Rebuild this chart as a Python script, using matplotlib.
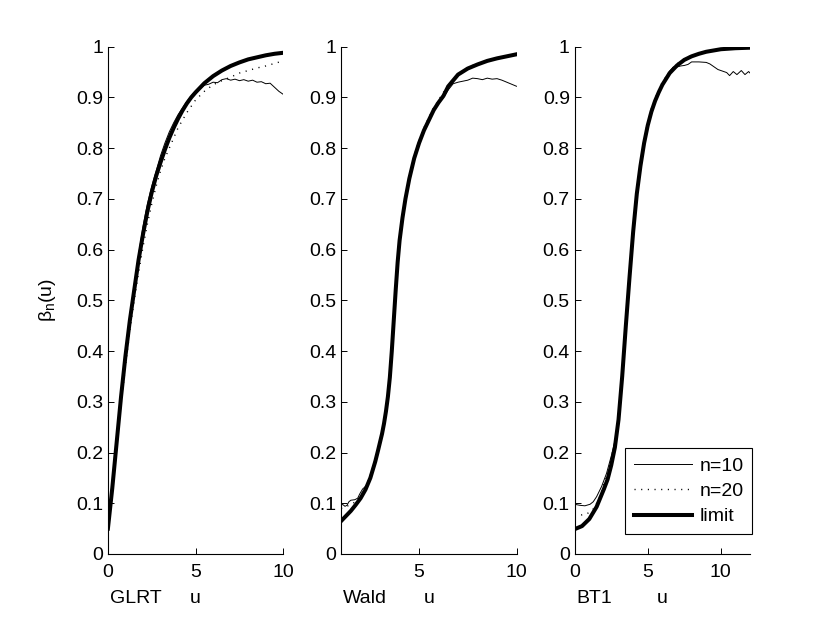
import matplotlib
matplotlib.use("Agg")
import matplotlib.pyplot as plt

plt.rcParams['font.family'] = ['Liberation Sans', 'DejaVu Sans']
plt.rcParams['mathtext.fontset'] = 'custom'
plt.rcParams['mathtext.rm'] = 'Liberation Sans'
plt.rcParams['mathtext.it'] = 'Liberation Sans'
plt.rcParams['font.size'] = 14

# --- GLRT panel ---
glrt_u_lim = [0, 0.25, 0.5, 0.75, 1.0, 1.25, 1.5, 1.75, 2.0, 2.25, 2.5, 2.75, 3.0, 3.25, 3.5,
              3.75, 4.0, 4.25, 4.5, 4.75, 5.0, 5.5, 6.0, 6.5, 7.0, 7.5, 8.0, 8.5, 9.0, 9.5, 10]
glrt_lim = [0.05, 0.13, 0.22, 0.31, 0.39, 0.46, 0.52, 0.58, 0.63, 0.675, 0.713, 0.745, 0.772, 0.797, 0.82,
            0.84, 0.858, 0.874, 0.888, 0.9, 0.91, 0.928, 0.942, 0.953, 0.962, 0.969, 0.975, 0.979, 0.983, 0.986, 0.988]
glrt_u_n10 = [0, 0.25, 0.5, 0.75, 1.0, 1.25, 1.5, 1.75, 2.0, 2.25, 2.5, 2.75, 3.0, 3.25, 3.5, 3.75, 4.0,
              4.25, 4.5, 4.75, 5.0, 5.25, 5.5, 5.75, 6.0, 6.25, 6.5, 6.75, 7.0, 7.25, 7.5, 7.75, 8.0,
              8.25, 8.5, 8.75, 9.0, 9.25, 9.5, 9.75, 10]
glrt_n10 = [0.05, 0.135, 0.225, 0.315, 0.395, 0.47, 0.53, 0.59, 0.645, 0.69, 0.725, 0.755, 0.785, 0.81,
            0.832, 0.85, 0.866, 0.879, 0.892, 0.903, 0.912, 0.917, 0.924, 0.926, 0.93, 0.929, 0.935, 0.937,
            0.934, 0.936, 0.933, 0.935, 0.932, 0.934, 0.93, 0.931, 0.927, 0.928, 0.92, 0.912, 0.906]
glrt_u_n20 = [0, 0.25, 0.5, 0.75, 1.0, 1.25, 1.5, 1.75, 2.0, 2.25, 2.5, 2.75, 3.0, 3.25, 3.5, 3.75,
              4.0, 4.5, 5.0, 5.5, 6.0, 6.5, 7.0, 7.5, 8.0, 8.5, 9.0, 9.5, 10]
glrt_n20 = [0.05, 0.125, 0.21, 0.295, 0.37, 0.44, 0.5, 0.555, 0.605, 0.65, 0.69, 0.725, 0.755, 0.78,
            0.80, 0.82, 0.84, 0.87, 0.895, 0.912, 0.925, 0.933, 0.94, 0.948, 0.953, 0.958, 0.962, 0.967, 0.972]

# --- Wald panel ---
wald_u_lim = [1.0, 1.25, 1.5, 1.75, 2.0, 2.25, 2.5, 2.75, 2.9, 3.1, 3.2, 3.3, 3.4, 3.5, 3.6, 3.7, 3.8, 3.9,
              4.0, 4.15, 4.3, 4.5, 4.75, 5.0, 5.25, 5.5, 5.75, 6.0, 6.25, 6.5, 7.0, 7.5, 8.0, 8.5, 9.0, 9.5, 10]
wald_lim = [0.065, 0.075, 0.085, 0.097, 0.11, 0.127, 0.15, 0.182, 0.205, 0.237, 0.257, 0.281, 0.31, 0.348,
            0.40, 0.46, 0.52, 0.575, 0.618, 0.663, 0.70, 0.74, 0.78, 0.81, 0.835, 0.855, 0.875, 0.89, 0.903,
            0.922, 0.945, 0.957, 0.965, 0.972, 0.977, 0.981, 0.985]
wald_u_n10 = [1.0, 1.1, 1.2, 1.3, 1.4, 1.5, 1.7, 1.85, 1.95, 2.1, 2.3, 2.5, 2.6, 2.75, 2.9, 3.1, 3.2, 3.3,
              3.4, 3.5, 3.6, 3.7, 3.8, 3.9, 4.0, 4.15, 4.3, 4.5, 4.75, 5.0, 5.25, 5.5, 5.75, 6.0, 6.25,
              6.5, 6.75, 7.0, 7.25, 7.5, 7.75, 8.0, 8.25, 8.5, 8.75, 9.0, 9.25, 9.5, 9.75, 10]
wald_n10 = [0.098, 0.097, 0.094, 0.096, 0.103, 0.106, 0.107, 0.11, 0.118, 0.128, 0.135, 0.152, 0.165,
            0.185, 0.207, 0.239, 0.259, 0.283, 0.312, 0.35, 0.40, 0.46, 0.52, 0.575, 0.618, 0.663, 0.70,
            0.74, 0.78, 0.81, 0.835, 0.855, 0.873, 0.888, 0.90, 0.915, 0.927, 0.93, 0.932, 0.934, 0.938,
            0.937, 0.935, 0.938, 0.936, 0.937, 0.934, 0.93, 0.926, 0.922]
wald_u_n20 = [1.0, 1.25, 1.5, 1.75, 2.0, 2.25, 2.5, 2.75, 2.9, 3.1, 3.2, 3.3, 3.4, 3.5, 3.6, 3.7, 3.8, 3.9,
              4.0, 4.15, 4.3, 4.5, 4.75, 5.0, 5.25, 5.5, 5.75, 6.0, 6.25, 6.5, 7.0, 7.5, 8.0, 8.5, 9.0, 9.5, 10]
wald_n20 = [0.09, 0.093, 0.098, 0.103, 0.115, 0.13, 0.155, 0.187, 0.21, 0.242, 0.262, 0.286, 0.315, 0.353,
            0.405, 0.465, 0.525, 0.58, 0.623, 0.668, 0.705, 0.745, 0.785, 0.815, 0.84, 0.86, 0.88, 0.895,
            0.91, 0.925, 0.947, 0.959, 0.967, 0.973, 0.978, 0.982, 0.986]

# --- BT1 panel ---
bt1_u_lim = [0, 0.5, 1.0, 1.5, 2.0, 2.25, 2.5, 2.75, 3.0, 3.25, 3.5, 3.75, 4.0, 4.25, 4.5, 4.75, 5.0,
             5.25, 5.5, 5.75, 6.0, 6.5, 7.0, 7.5, 8.0, 8.5, 9.0, 10, 11, 12]
bt1_lim = [0.049, 0.055, 0.069, 0.093, 0.128, 0.147, 0.175, 0.21, 0.265, 0.35, 0.45, 0.545, 0.635, 0.71,
           0.765, 0.81, 0.845, 0.872, 0.893, 0.91, 0.925, 0.948, 0.963, 0.974, 0.981, 0.986, 0.99,
           0.995, 0.997, 0.998]
bt1_u_n10 = [0, 0.35, 0.7, 1.05, 1.27, 1.5, 1.84, 2.18, 2.52, 2.87, 3.0, 3.25, 3.5, 3.75, 4.0, 4.25,
             4.5, 4.75, 5.0, 5.25, 5.5, 5.75, 6.0, 6.25, 6.5, 6.75, 7.0, 7.25, 7.5, 7.75, 8.0, 8.5, 9.0,
             9.25, 9.5, 9.8, 10.1, 10.4, 10.6, 10.85, 11.1, 11.4, 11.65, 11.9, 12]
bt1_n10 = [0.098, 0.096, 0.095, 0.098, 0.103, 0.113, 0.133, 0.159, 0.195, 0.237, 0.272, 0.355, 0.453,
           0.548, 0.638, 0.715, 0.77, 0.813, 0.848, 0.875, 0.895, 0.912, 0.927, 0.94, 0.952, 0.96, 0.96,
           0.962, 0.963, 0.965, 0.97, 0.97, 0.969, 0.966, 0.961, 0.955, 0.952, 0.949, 0.943, 0.951,
           0.945, 0.953, 0.945, 0.951, 0.948]
bt1_u_n20 = [0, 0.25, 0.5, 0.75, 1.0, 1.25, 1.5, 1.75, 2.0, 2.25, 2.5, 2.75, 3.0, 3.25, 3.5, 3.75, 4.0,
             4.25, 4.5, 4.75, 5.0, 5.25, 5.5, 5.75, 6.0, 6.5, 7.0, 7.5, 8.0, 8.5, 9.0, 10, 11, 12]
bt1_n20 = [0.081, 0.079, 0.077, 0.078, 0.082, 0.088, 0.1, 0.115, 0.138, 0.158, 0.187, 0.222, 0.275,
           0.36, 0.457, 0.55, 0.64, 0.717, 0.773, 0.818, 0.852, 0.878, 0.898, 0.915, 0.93, 0.952, 0.966,
           0.976, 0.983, 0.987, 0.991, 0.995, 0.997, 0.998]

panel_names = ["GLRT", "Wald", "BT1"]
panel_xlims = [(0, 10), (1, 10), (0, 12)]
panel_xticks = [[0, 5, 10], [5, 10], [0, 5, 10]]
y_ticks = [0, 0.1, 0.2, 0.3, 0.4, 0.5, 0.6, 0.7, 0.8, 0.9, 1]
y_ticklabels = ["0", "0.1", "0.2", "0.3", "0.4", "0.5", "0.6", "0.7", "0.8", "0.9", "1"]

curves = [
    (glrt_u_n10, glrt_n10, glrt_u_n20, glrt_n20, glrt_u_lim, glrt_lim),
    (wald_u_n10, wald_n10, wald_u_n20, wald_n20, wald_u_lim, wald_lim),
    (bt1_u_n10, bt1_n10, bt1_u_n20, bt1_n20, bt1_u_lim, bt1_lim),
]

fig = plt.figure(figsize=(8.3, 6.25), dpi=100)
lefts = [0.130, 0.411, 0.6924]
for i in range(3):
    ax = fig.add_axes([lefts[i], 0.1136, 0.2113, 0.8117])
    u10, b10, u20, b20, ul, bl = curves[i]
    ax.plot(u10, b10, color='black', lw=0.7, label='n=10')
    ax.plot(u20, b20, color='black', lw=1.0, linestyle=(0, (0.8, 4)), label='n=20')
    ax.plot(ul, bl, color='black', lw=2.9, label='limit')

    ax.set_xlim(*panel_xlims[i])
    ax.set_ylim(0, 1)
    ax.set_xticks(panel_xticks[i])
    ax.set_yticks(y_ticks)
    ax.set_yticklabels(y_ticklabels)
    ax.tick_params(direction='in', length=4, width=0.7, colors='black', labelsize=14)
    ax.tick_params(axis='x', pad=7)
    for side in ['top', 'right']:
        ax.spines[side].set_visible(False)
    for side in ['left', 'bottom']:
        ax.spines[side].set_linewidth(0.8)
    ax.set_xlabel('u', va='center')
    ax.xaxis.set_label_coords(0.5, -0.087)
    ax.text(0.01, -0.087, panel_names[i], transform=ax.transAxes, ha='left', va='center', fontsize=14)

    if i == 0:
        ax.set_ylabel(r'$\beta_n(u)$', labelpad=13)
    if i == 2:
        leg = ax.legend(loc='lower right', bbox_to_anchor=(1.013, 0.039), borderaxespad=0,
                        fancybox=False, edgecolor='black', framealpha=1, handlelength=3.0,
                        handletextpad=0.36, labelspacing=0.4, borderpad=0.45, fontsize=14)
        leg.get_frame().set_linewidth(0.8)

fig.savefig("out.png", dpi=100)
